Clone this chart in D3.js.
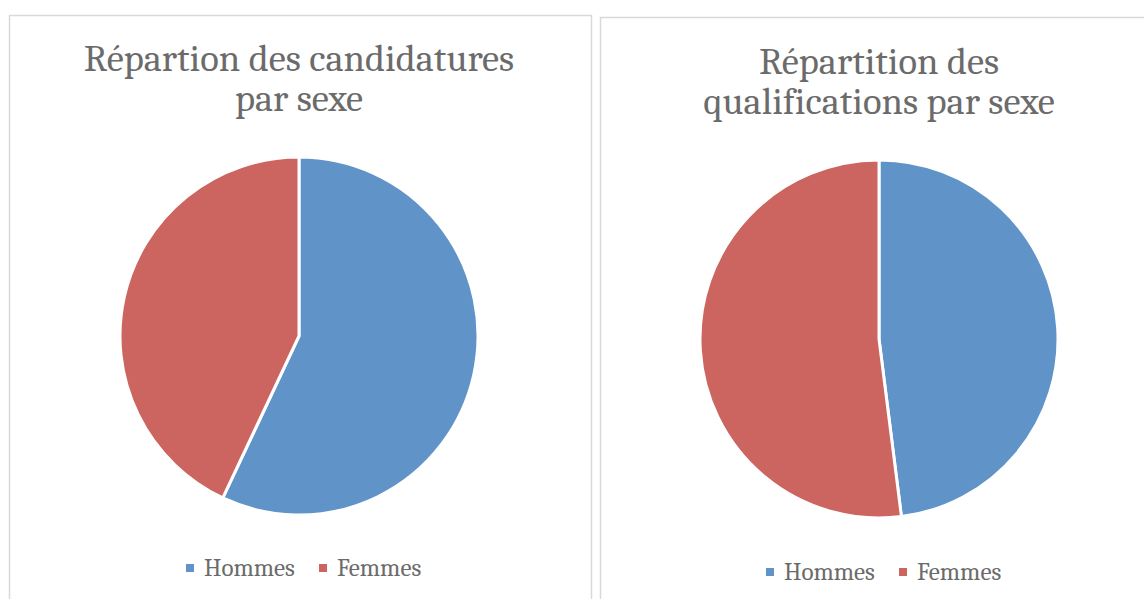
<!DOCTYPE html>
<html>
<head>
<meta charset="utf-8">
<script src="https://cdn.jsdelivr.net/npm/d3@7"></script>
<style>
  body { margin: 0; background: #fff; }
  svg { display: block; }
</style>
</head>
<body>
<div id="chart"></div>
<script>
// Data
var categories = ["Hommes", "Femmes"];
var candidatures = [57, 43];
var qualifications = [48, 52];
var titles = [
  ["Répartion des candidatures", "par sexe"],
  ["Répartition des", "qualifications par sexe"]
];
var colors = ["#6094C8", "#CC6560"];

var svgWidth = 1144;
var svgHeight = 599;

var svg = d3.select("#chart")
  .append("svg")
  .attr("width", svgWidth)
  .attr("height", svgHeight);

var fontFamily = "Cambria, 'Liberation Serif', serif";

// panel layout
var panels = [
  { x: 9, y: 15, w: 582, h: 600, cx: 299, cy: 336, r: 179, titleY: [71, 111], legendY: 568, legendX: 190, values: candidatures, title: titles[0] },
  { x: 600, y: 17, w: 560, h: 600, cx: 879, cy: 339, r: 179, titleY: [74, 114], legendY: 572, legendX: 770, values: qualifications, title: titles[1] }
];

var colorScale = d3.scaleOrdinal().domain(categories).range(colors);

var pie = d3.pie().sort(null).value(d => d.value);

panels.forEach(function (p) {
  var g = svg.append("g");

  g.append("rect")
    .attr("x", p.x + 0.5)
    .attr("y", p.y + 0.5)
    .attr("width", p.w)
    .attr("height", p.h)
    .attr("fill", "none")
    .attr("stroke", "#D9D9D9")
    .attr("stroke-width", 1.5);

  // title, one text per line
  g.selectAll("text.title")
    .data(p.title)
    .enter()
    .append("text")
    .attr("class", "title")
    .attr("text-anchor", "middle")
    .attr("font-family", fontFamily)
    .attr("font-size", 38.5)
    .attr("fill", "#6B6B6B")
    .attr("x", p.cx)
    .attr("y", (d, i) => p.titleY[i])
    .text(d => d);

  // pie
  var data = categories.map((c, i) => ({ name: c, value: p.values[i] }));
  var arc = d3.arc().innerRadius(0).outerRadius(p.r);

  g.append("g")
    .attr("transform", `translate(${p.cx}, ${p.cy})`)
    .selectAll("path")
    .data(pie(data))
    .enter()
    .append("path")
    .attr("d", arc)
    .attr("fill", d => colorScale(d.data.name))
    .attr("stroke", "#fff")
    .attr("stroke-width", 3)
    .attr("stroke-linejoin", "round");

  // legend
  var legend = g.append("g")
    .attr("transform", `translate(${p.legendX}, ${p.legendY})`);

  var offsets = [0, 133];
  categories.forEach(function (c, i) {
    legend.append("rect")
      .attr("x", offsets[i] - 4)
      .attr("y", -4)
      .attr("width", 8)
      .attr("height", 8)
      .attr("fill", colorScale(c));
    legend.append("text")
      .attr("x", offsets[i] + 14)
      .attr("y", 8)
      .attr("font-family", fontFamily)
      .attr("font-size", 25)
      .attr("fill", "#6B6B6B")
      .text(c);
  });
});
</script>
</body>
</html>
